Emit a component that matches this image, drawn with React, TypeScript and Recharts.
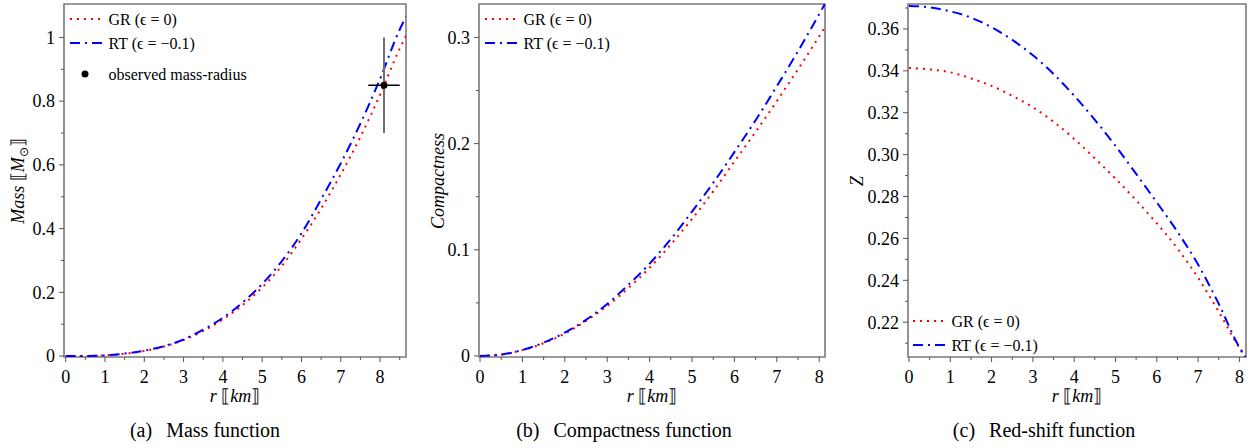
import { ComposedChart, Line, Scatter, ErrorBar, XAxis, YAxis, ReferenceArea } from 'recharts';

const SERIF = "'Liberation Serif', 'Times New Roman', serif";
const RED = '#ff0000';
const BLUE = '#0000ff';
const FRAME = '#7a7a7a';
const TICK = '#555555';
const GR_DASH = '2 5';
const RT_DASH = '10 5 2 5';
const CHART_H = 410;

// (a) mass function
const massR = [0, 0.5, 1, 1.5, 2, 2.5, 3, 3.5, 4, 4.5, 5, 5.5, 6, 6.5, 7, 7.5, 8, 8.5, 8.66];
const massGR = [0, 0.0003, 0.002, 0.0075, 0.016, 0.03, 0.05, 0.079, 0.115, 0.16, 0.215, 0.283, 0.368, 0.463, 0.57, 0.688, 0.82, 0.965, 1.005];
const massRT = [0, 0.0003, 0.002, 0.0078, 0.017, 0.031, 0.052, 0.083, 0.12, 0.168, 0.226, 0.298, 0.385, 0.492, 0.605, 0.73, 0.87, 1.025, 1.065];

// observed mass-radius with error bars
const obsRadius = 8.1;
const obsMass = 0.85;
const obsRadiusErr = 0.4;
const obsMassErr = 0.15;

// (b) compactness
const compR = [0, 0.5, 1, 1.5, 2, 2.5, 3, 3.5, 4, 4.5, 5, 5.5, 6, 6.5, 7, 7.5, 8, 8.14];
const compGR = [0, 0.0013, 0.0055, 0.012, 0.021, 0.033, 0.047, 0.064, 0.083, 0.105, 0.129, 0.155, 0.183, 0.211, 0.24, 0.27, 0.301, 0.31];
const compRT = [0, 0.0013, 0.0056, 0.0125, 0.022, 0.034, 0.049, 0.067, 0.087, 0.11, 0.136, 0.163, 0.192, 0.222, 0.254, 0.287, 0.322, 0.332];

// (c) red-shift
const zR = [0, 0.5, 1, 1.5, 2, 2.5, 3, 3.5, 4, 4.5, 5, 5.5, 6, 6.5, 7, 7.5, 8, 8.16];
const zGR = [0.3414, 0.3407, 0.3393, 0.3364, 0.3328, 0.3281, 0.3226, 0.3157, 0.3075, 0.2982, 0.2885, 0.2782, 0.2672, 0.2552, 0.2412, 0.225, 0.2078, 0.2032];
const zRT = [0.371, 0.3703, 0.3684, 0.3654, 0.3608, 0.3548, 0.3474, 0.3385, 0.3281, 0.3166, 0.3042, 0.2908, 0.2772, 0.2632, 0.2475, 0.2288, 0.208, 0.203];

// ticks
const rTicksMass = [0, 0.5, 1, 1.5, 2, 2.5, 3, 3.5, 4, 4.5, 5, 5.5, 6, 6.5, 7, 7.5, 8, 8.5];
const rTicks = [0, 0.5, 1, 1.5, 2, 2.5, 3, 3.5, 4, 4.5, 5, 5.5, 6, 6.5, 7, 7.5, 8];
const massTicks = [0, 0.1, 0.2, 0.3, 0.4, 0.5, 0.6, 0.7, 0.8, 0.9, 1];
const massMajor = [0, 0.2, 0.4, 0.6, 0.8, 1];
const compTicks = [0, 0.05, 0.1, 0.15, 0.2, 0.25, 0.3];
const compMajor = [0, 0.1, 0.2, 0.3];
const zTicks = [0.21, 0.22, 0.23, 0.24, 0.25, 0.26, 0.27, 0.28, 0.29, 0.3, 0.31, 0.32, 0.33, 0.34, 0.35, 0.36, 0.37];
const zMajor = [0.22, 0.24, 0.26, 0.28, 0.3, 0.32, 0.34, 0.36];

const rows = (r: number[], gr: number[], rt: number[]) => r.map((v, i) => ({ r: v, gr: gr[i], rt: rt[i] }));

const isMajor = (list: number[], v: number) => list.some((m) => Math.abs(m - v) < 1e-9);

const XTick = (props: any) => {
  const { x, y, payload } = props;
  const major = Number.isInteger(payload.value);
  return (
    <g>
      <line x1={x} y1={y} x2={x} y2={y + (major ? 5 : 3)} stroke={TICK} />
      {major && (
        <text x={x} y={y + 26} textAnchor="middle" fontFamily={SERIF} fontSize={18} fill="#000">
          {payload.value}
        </text>
      )}
    </g>
  );
};

const makeYTick = (majors: number[], fmt: (v: number) => string) => (props: any) => {
  const { x, y, payload } = props;
  const major = isMajor(majors, payload.value);
  return (
    <g>
      <line x1={x} y1={y} x2={x - (major ? 5 : 3)} y2={y} stroke={TICK} />
      {major && (
        <text x={x - 9} y={y} dy="0.35em" textAnchor="end" fontFamily={SERIF} fontSize={18} fill="#000">
          {fmt(payload.value)}
        </text>
      )}
    </g>
  );
};

const xTitle = (cx: number) => () => (
  <text x={cx} y={402} textAnchor="middle" fontFamily={SERIF} fontSize={18} fill="#000">
    <tspan fontStyle="italic">r</tspan> ⟦<tspan fontStyle="italic">km</tspan>⟧
  </text>
);

const yTitle = (cx: number, content: any) => () => (
  <text
    x={cx}
    y={181}
    transform={`rotate(-90 ${cx} ${181})`}
    textAnchor="middle"
    dy="0.35em"
    fontFamily={SERIF}
    fontSize={18}
    fill="#000"
  >
    {content}
  </text>
);

function Panel({ left, width, yWidth, right, data, xDomain, yDomain, xTicks, yTicks, yTickFn, xLabelX, yLabel, children }: any) {
  return (
    <div style={{ position: 'absolute', left, top: 0 }}>
      <ComposedChart width={width} height={CHART_H} data={data} margin={{ top: 4, right, left: 0, bottom: 0 }}>
        <XAxis
          dataKey="r"
          type="number"
          domain={xDomain}
          ticks={xTicks}
          interval={0}
          allowDataOverflow
          height={53}
          tickSize={0}
          tickMargin={0}
          axisLine={false}
          tickLine={false}
          tick={XTick}
          label={{ content: xTitle(xLabelX) }}
        />
        <YAxis
          type="number"
          domain={yDomain}
          ticks={yTicks}
          interval={0}
          allowDataOverflow
          width={yWidth}
          tickSize={0}
          tickMargin={0}
          axisLine={false}
          tickLine={false}
          tick={yTickFn}
          label={{ content: yLabel }}
        />
        <ReferenceArea x1={xDomain[0]} x2={xDomain[1]} y1={yDomain[0]} y2={yDomain[1]} fill="none" stroke={FRAME} strokeWidth={1.6} />
        <Line type="monotone" dataKey="gr" stroke={RED} strokeWidth={2} strokeDasharray={GR_DASH} dot={false} activeDot={false} isAnimationActive={false} />
        <Line type="monotone" dataKey="rt" stroke={BLUE} strokeWidth={2} strokeDasharray={RT_DASH} dot={false} activeDot={false} isAnimationActive={false} />
        {children}
      </ComposedChart>
    </div>
  );
}

function LegendRow({ x, y, kind, label }: any) {
  return (
    <g>
      {kind === 'gr' && <line x1={x} y1={y} x2={x + 32} y2={y} stroke={RED} strokeWidth={2} strokeDasharray={GR_DASH} />}
      {kind === 'rt' && <line x1={x} y1={y} x2={x + 32} y2={y} stroke={BLUE} strokeWidth={2} strokeDasharray={RT_DASH} />}
      {kind === 'obs' && <circle cx={x + 15} cy={y} r={3.5} fill="#000" />}
      <text x={x + 38.5} y={y} dy="0.35em" fontFamily={SERIF} fontSize={16} fill="#000">
        {label}
      </text>
    </g>
  );
}

function Caption({ cx, tag, text }: any) {
  return (
    <text x={cx} y={437} textAnchor="middle" fontFamily={SERIF} fontSize={20} fill="#000">
      {tag}
      <tspan dx={14}>{text}</tspan>
    </text>
  );
}

const GR_LABEL = 'GR (ϵ = 0)';
const RT_LABEL = 'RT (ϵ = −0.1)';

export default function App() {
  const obsData = [{ r: obsRadius, m: obsMass, dr: obsRadiusErr, dm: obsMassErr }];
  return (
    <div style={{ position: 'absolute', left: 0, top: 0, width: 1256, height: 448, background: '#fff', overflow: 'hidden' }}>
      <Panel
        left={0}
        width={420}
        yWidth={64}
        right={14}
        data={rows(massR, massGR, massRT)}
        xDomain={[-0.043, 8.66]}
        yDomain={[-0.003, 1.105]}
        xTicks={rTicksMass}
        yTicks={massTicks}
        yTickFn={makeYTick(massMajor, (v) => String(Number(v.toFixed(1))))}
        xLabelX={235}
        yLabel={yTitle(18, (
          <>
            <tspan fontStyle="italic">Mass</tspan> ⟦<tspan fontStyle="italic">M</tspan>
            <tspan dy={4} fontSize={12}>⊙</tspan>
            <tspan dy={-4}>⟧</tspan>
          </>
        ))}
      >
        <Scatter
          data={obsData}
          dataKey="m"
          isAnimationActive={false}
          shape={(p: any) => <circle cx={p.cx} cy={p.cy} r={3.5} fill="#000" />}
        >
          <ErrorBar dataKey="dm" direction="y" width={0} stroke="#707070" strokeWidth={2} />
          <ErrorBar dataKey="dr" direction="x" width={0} stroke="#000" strokeWidth={1.5} />
        </Scatter>
      </Panel>
      <Panel
        left={420}
        width={420}
        yWidth={59}
        right={15}
        data={rows(compR, compGR, compRT)}
        xDomain={[-0.024, 8.137]}
        yDomain={[-0.001, 0.3315]}
        xTicks={rTicks}
        yTicks={compTicks}
        yTickFn={makeYTick(compMajor, (v) => String(Number(v.toFixed(2))))}
        xLabelX={232}
        yLabel={yTitle(18, <tspan fontStyle="italic">Compactness</tspan>)}
      />
      <Panel
        left={840}
        width={416}
        yWidth={68}
        right={10}
        data={rows(zR, zGR, zRT)}
        xDomain={[-0.024, 8.16]}
        yDomain={[0.2034, 0.3719]}
        xTicks={rTicks}
        yTicks={zTicks}
        yTickFn={makeYTick(zMajor, (v) => v.toFixed(2))}
        xLabelX={237}
        yLabel={yTitle(17, <tspan fontStyle="italic">Z</tspan>)}
      />
      <svg width={1256} height={448} style={{ position: 'absolute', left: 0, top: 0, pointerEvents: 'none' }}>
        <LegendRow x={70} y={19} kind="gr" label={GR_LABEL} />
        <LegendRow x={70} y={43} kind="rt" label={RT_LABEL} />
        <LegendRow x={70} y={74} kind="obs" label="observed mass-radius" />
        <LegendRow x={485} y={19} kind="gr" label={GR_LABEL} />
        <LegendRow x={485} y={43} kind="rt" label={RT_LABEL} />
        <LegendRow x={913} y={321} kind="gr" label={GR_LABEL} />
        <LegendRow x={913} y={345} kind="rt" label={RT_LABEL} />
        <Caption cx={205} tag="(a)" text="Mass function" />
        <Caption cx={624} tag="(b)" text="Compactness function" />
        <Caption cx={1044} tag="(c)" text="Red-shift function" />
      </svg>
    </div>
  );
}
